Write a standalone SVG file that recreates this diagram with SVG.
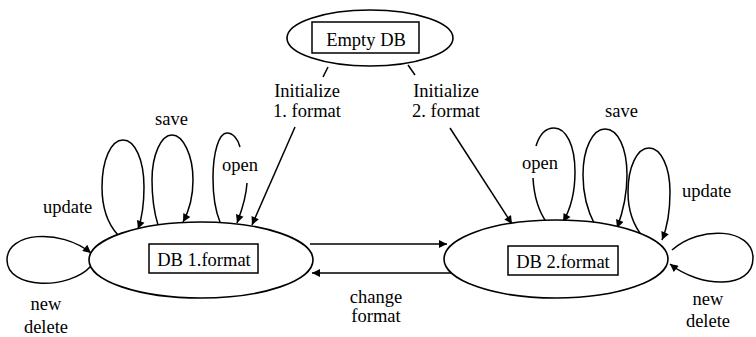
<svg xmlns="http://www.w3.org/2000/svg" width="756" height="337" viewBox="0 0 756 337">
<style>
.n{fill:none;stroke:#000;stroke-width:1.5}
.e{fill:#fff;stroke:#000;stroke-width:1.6}
.r{fill:#fff;stroke:#000;stroke-width:1.5}
.c{fill:none;stroke:#000;stroke-width:1.5}
.a{marker-end:url(#ah)}
text{font-family:"Liberation Serif","Times New Roman",serif;font-size:18.5px;fill:#000}
.m{text-anchor:middle}
</style>
<defs>
<marker id="ah" viewBox="0 0 10 10" refX="10" refY="5" markerWidth="11" markerHeight="8" markerUnits="userSpaceOnUse" orient="auto">
<path d="M0,0 L10,5 L0,10 z" fill="#000"/>
</marker>
</defs>
<rect width="756" height="337" fill="#fff"/>
<g id="connectors">
<path class="c" d="M328,67 L323,77"/>
<path class="c a" d="M295,127 L252,225"/>
<path class="c" d="M408,65 L415,75"/>
<path class="c a" d="M450,128 L512,224"/>
<path class="c a" d="M310,244 L447,244"/>
<path class="c a" d="M467,273 L312,273"/>
<path class="c a" d="M118,235 C106,222 102,205 102,187 C102,160 111,140 123,140 C135,140 144,160 144,187 C144,205 142,218 138,229"/>
<path class="c a" d="M158,225 C154,212 152,197 152,180 C152,155 161,135 172,135 C183,135 193,155 193,180 C193,197 189,211 183,222"/>
<path class="c" d="M220,222 C215,210 213,195 213,178 C213,152 219,133 227,133 C233,133 238,139 240,147"/>
<path class="c a" d="M247,183 C246,200 241,212 237,223"/>
<path class="c a" d="M91,266 C70,290 7,290 7,260 C7,232 60,228 91,253"/>
<path class="c" d="M547,223 C539,212 534,196 533,178"/>
<path class="c a" d="M536,146 C540,133 547,128 554,128 C566,128 575,145 575,172 C575,192 570,210 563,222"/>
<path class="c a" d="M595,225 C588,212 583,195 583,175 C583,148 593,129 605,129 C618,129 627,148 627,175 C627,195 623,212 617,228"/>
<path class="c a" d="M643,237 C633,225 628,208 628,192 C628,167 637,148 649,148 C661,148 670,167 670,192 C670,212 667,228 662,240"/>
<path class="c a" d="M672,250 C700,225 753,228 753,258 C753,290 700,288 670,264"/>
<text x="307" y="97" class="m">Initialize</text>
<text x="307" y="117" class="m">1. format</text>
<text x="446" y="97" class="m">Initialize</text>
<text x="446" y="117" class="m">2. format</text>
<text x="376" y="303" class="m">change</text>
<text x="376" y="322" class="m">format</text>
<text x="43" y="213">update</text>
<text x="155" y="125">save</text>
<text x="222" y="171">open</text>
<text x="522" y="169">open</text>
<text x="605" y="117">save</text>
<text x="682" y="197">update</text>
<text x="46" y="310" class="m">new</text>
<text x="46" y="333" class="m">delete</text>
<text x="708" y="305" class="m">new</text>
<text x="708" y="327" class="m">delete</text>
</g>
<g id="empty-db">
<ellipse class="e" cx="370" cy="38" rx="83" ry="28"/>
<rect class="r" x="312" y="22" width="107" height="31"/>
<text x="366" y="46" class="m">Empty DB</text>
</g>
<g id="db1">
<ellipse class="e" cx="201" cy="260" rx="112" ry="38"/>
<rect class="r" x="149" y="244" width="109" height="29"/>
<text x="204" y="266" class="m">DB 1.format</text>
</g>
<g id="db2">
<ellipse class="e" cx="556" cy="259" rx="112" ry="39"/>
<rect class="r" x="508" y="246" width="110" height="29"/>
<text x="563" y="268" class="m">DB 2.format</text>
</g>
</svg>
